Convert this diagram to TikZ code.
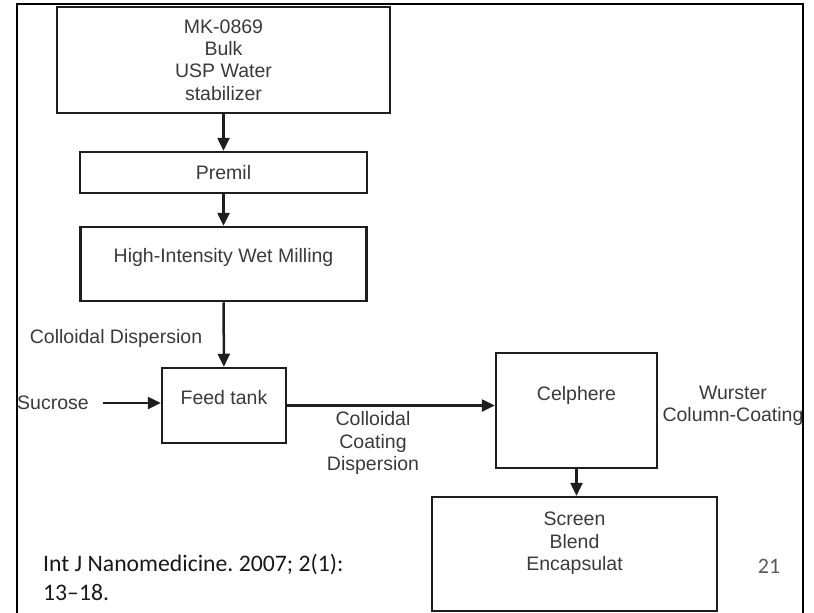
\documentclass[tikz,border=0pt]{standalone}
\usepackage{fontspec}
\setmainfont{Liberation Sans}
\newfontfamily\citefont{Carlito}
\usetikzlibrary{arrows.meta,positioning}
\definecolor{boxgray}{RGB}{58,58,58}
\definecolor{pagegray}{RGB}{89,89,89}
\definecolor{linegray}{RGB}{30,30,30}
\frenchspacing

\begin{document}
\begin{tikzpicture}[x=1pt,y=-1pt,
  box/.style={draw=linegray, line width=2.5pt, inner sep=0pt},
  lbl/.style={text=boxgray, font=\fontsize{19.5}{22.3}\selectfont, align=center, inner sep=0pt},
  flow/.style={draw=linegray, line width=2.5pt, -{Triangle[length=13pt,width=12pt]}}]
\useasboundingbox (0,0) rectangle (814,613);
% Slide frame
\draw[line width=1.8pt] (17,613) -- (17,4) -- (803,4) -- (803,613);
% Process boxes
\node[box, minimum width=333pt, minimum height=106pt] (bulk) at (223.5,60) {};
\node[box, minimum width=287pt, minimum height=41pt] (premil) at (223.5,172.5) {};
\node[box, minimum width=286pt, minimum height=74pt] (mill) at (223.5,264) {};
\node[box, minimum width=124pt, minimum height=75pt] (feed) at (224,405.5) {};
\node[box, minimum width=161pt, minimum height=115pt] (celph) at (576.5,410.5) {};
\node[box, minimum width=285pt, minimum height=114pt] (screen) at (574.5,554) {};
% Box texts
\node[lbl] (bulktxt) at (bulk) {MK-0869\\Bulk\\USP Water\\stabilizer};
\node[lbl] (premiltxt) at (premil) {Premil};
\node[lbl] (milltxt) at ([yshift=7pt]mill.center) {High-Intensity Wet Milling};
\node[lbl] (feedtxt) at ([yshift=7.5pt]feed.center) {Feed tank};
\node[lbl] (celphtxt) at ([yshift=15.5pt]celph.center) {Celphere};
\node[lbl] (screentxt) at ([yshift=10.5pt]screen.center) {Screen\\Blend\\Encapsulat};
% Side labels
\node[lbl] (disp) at (116,338) {Colloidal Dispersion};
\node[lbl] (sucrose) at (53,403) {Sucrose};
\node[lbl] (coatdisp) at (373,443) {Colloidal\\Coating\\Dispersion};
\node[lbl] (wurster) at (733,406) {Wurster\\Column-Coating};
% Flow arrows
\draw[flow] (bulk) -- (premil);
\draw[flow] (premil) -- (mill);
\draw[flow] (mill) -- (feed);
\draw[flow, shorten <=14pt] (sucrose) -- (sucrose -| feed.west);
\draw[flow] (feed.east) -- (feed.east -| celph.west);
\draw[flow] (celph.south) -- (celph.south |- screen.north);
% Reference and page number
\node[font=\citefont\fontsize{23.7}{29}\selectfont, align=left, anchor=west, inner sep=0pt, text=black!90] (cite) at (43,577) {Int J Nanomedicine. 2007; 2(1):\\13–18.};
\node[font=\citefont\fontsize{22}{26}\selectfont, text=pagegray, inner sep=0pt] (pagenum) at (769,566) {21};
\end{tikzpicture}
\end{document}
